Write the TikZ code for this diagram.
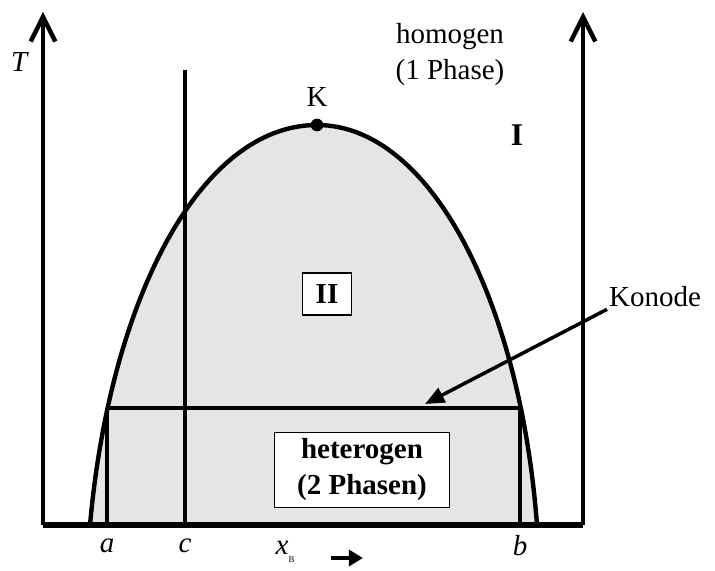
\documentclass[tikz,border=0pt]{standalone}
\usepackage{fontspec}
\setmainfont{Liberation Serif}
\usetikzlibrary{arrows.meta, positioning, calc}

\begin{document}
\begin{tikzpicture}[x=0.02cm, y=-0.02cm,
  thickline/.style={line width=2.5pt},
  axis/.style={line width=2.5pt, -{Straight Barb[length=14pt, width=14pt]}},
  lbl/.style={font=\fontsize{16.5}{20.5}\selectfont, align=center, inner sep=1pt},
  boxed/.style={draw, line width=0.8pt, fill=white, align=center,
                font=\fontsize{16.5}{20.5}\selectfont\bfseries},
]
\useasboundingbox (0,0) rectangle (715,570);

% two-phase region
\fill[black!10] (90,525) .. controls (110,300) and (200,125) .. (317,125)
  .. controls (430,125) and (520,300) .. (537,525) -- cycle;
\draw[thickline] (90,525) .. controls (110,300) and (200,125) .. (317,125)
  .. controls (430,125) and (520,300) .. (537,525);

% axes
\coordinate (o) at (43,525);
\coordinate (r) at (583,525);
\draw[axis] (o) -- (43,12);
\draw[axis] (r) -- (583,12);
\draw[line width=3.2pt] (o) -- (r);

% tie line and composition lines
\coordinate (ta) at (107,408);
\coordinate (tb) at (520,408);
\coordinate (tiehit) at (425,404);
\draw[thickline] (ta) -- (tb);
\draw[thickline] (ta) -- (107,525);
\draw[thickline] (tb) -- (520,525);
\draw[thickline] (185,70) -- (185,525);

% critical point
\fill (317,125) circle (3.6pt);
\node[lbl] (k) at (317,97) {K};

% labels
\node[lbl] (t) at (20,62) {\textit{T}};
\node[lbl] (a) at (107,546) {\textit{a}};
\node[lbl] (c) at (185,546) {\textit{c}};
\node[lbl] (b) at (520,546) {\textit{b}};
\node[lbl] (xb) at (285,552) {\textit{x}\raisebox{-0.6ex}{\tiny B}};
\draw[line width=2.8pt, -{Triangle[length=8pt, width=9pt]}] (331,558) -- (363,558);

\node[lbl] (homogen) at (450,55) {homogen\\(1 Phase)};
\node[lbl, font=\fontsize{18}{20}\selectfont\bfseries] (one) at (517,135) {I};
\node[boxed, minimum width=0.98cm, minimum height=0.84cm] (two) at (327,294) {II};
\node[boxed, minimum width=3.5cm, minimum height=1.5cm] (het) at (362,470) {heterogen\\(2 Phasen)};

\node[lbl] (konode) at (655,297) {Konode};
\draw[line width=2pt, -{Triangle[length=11pt, width=9pt]}] (konode.south west) -- (tiehit);
\end{tikzpicture}
\end{document}
